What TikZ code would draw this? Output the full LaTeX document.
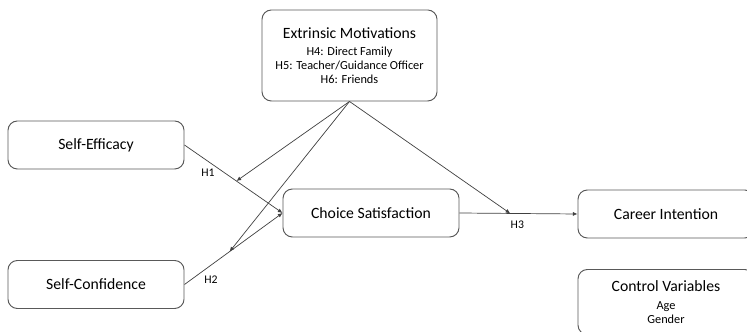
\documentclass[tikz,border=0pt]{standalone}
\usepackage{fontspec}
\setmainfont{Carlito}
\usetikzlibrary{calc}
\usetikzlibrary{arrows.meta}
\newcommand{\subtext}{\fontsize{10.5}{12}\selectfont}

\begin{document}
\begin{tikzpicture}[x=0.03cm, y=0.03cm,
        box/.style={draw=black!65, line width=0.8pt, rounded corners=8pt, align=center,
            minimum width=5.28cm, minimum height=1.44cm, font=\fontsize{13.4}{12}\selectfont},
        link/.style={draw=black!75, line width=0.6pt, -{Latex[length=4pt,width=3.5pt]}},
        hlabel/.style={font=\fontsize{10}{12}\selectfont, inner sep=1pt}]
                \clip (0,0) rectangle (747,332);
                \node[box, minimum width=5.25cm, minimum height=2.73cm] (ext) at (349.5,276.5)
                    {Extrinsic Motivations\\[3pt]{\subtext H4: Direct Family}\\{\subtext H5: Teacher/Guidance Officer}\\{\subtext H6: Friends}};
                \node[box] (eff) at (96,187) {Self-Efficacy};
                \node[box] (conf) at (96,47.5) {Self-Confidence};
                \node[box] (cs) at (371,119) {Choice Satisfaction};
                \node[box] (ci) at (666,118) {Career Intention};
                \node[box, minimum height=1.95cm] (cv) at (666,30)
                    {Control Variables\\[3pt]{\subtext Age}\\{\subtext Gender}};
                \draw[link] (eff.east) -- (cs.west) node[hlabel, pos=0.24, below=5pt] (h1) {H1};
                \draw[link] (conf.east) -- (cs.west) node[hlabel, pos=0.27, below=8pt] (h2) {H2};
                \draw[link] (cs.east) -- (ci.west) node[hlabel, pos=0.49, below=5pt] (h3) {H3};
                \coordinate (m1) at ($(eff.east)!0.53!(cs.west)$);
                \coordinate (m2) at ($(conf.east)!0.46!(cs.west)$);
                \coordinate (m3) at ($(cs.east)!0.43!(ci.west)$);
                \draw[link] (ext.south) -- (m1);
                \draw[link] (ext.south) -- (m2);
                \draw[link] (ext.south) -- (m3);
            \end{tikzpicture}
\end{document}
